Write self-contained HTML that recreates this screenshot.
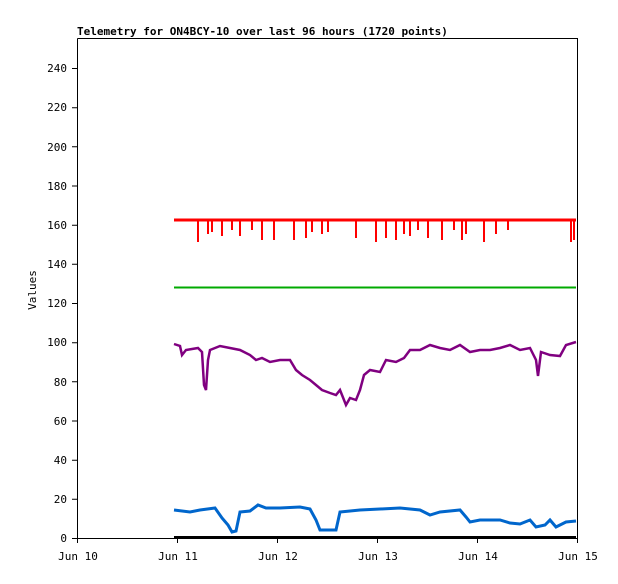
<!DOCTYPE html><html><head><style>body{margin:0;background:#fff}svg text{font-family:"DejaVu Sans Mono","Liberation Mono",monospace;font-size:11px}</style></head><body>
<svg width="618" height="579" xmlns="http://www.w3.org/2000/svg">
<rect width="618" height="579" fill="#fff"/>
<text x="77" y="35" font-weight="bold">Telemetry for ON4BCY-10 over last 96 hours (1720 points)</text>
<path d="M77.5 38.5H577.5V538.5M77.5 38.5V538.5H577.5" fill="none" stroke="#000"/>
<g stroke="#000" fill="none">
<path d="M72 538.5h5M72 499.3h5M72 460.2h5M72 421h5M72 381.8h5M72 342.7h5M72 303.5h5M72 264.3h5M72 225.2h5M72 186h5M72 146.8h5M72 107.7h5M72 68.5h5"/>
<path d="M77.5 538v5M177.5 538v5M277.5 538v5M377.5 538v5M477.5 538v5M577.5 538v5"/>
</g>
<g text-anchor="end">
<text x="67" y="542">0</text><text x="67" y="503">20</text><text x="67" y="464">40</text><text x="67" y="425">60</text><text x="67" y="386">80</text><text x="67" y="346">100</text><text x="67" y="307">120</text><text x="67" y="268">140</text><text x="67" y="229">160</text><text x="67" y="190">180</text><text x="67" y="151">200</text><text x="67" y="111">220</text><text x="67" y="72">240</text>
</g>
<g text-anchor="middle">
<text x="78" y="560">Jun 10</text><text x="178" y="560">Jun 11</text><text x="278" y="560">Jun 12</text><text x="378" y="560">Jun 13</text><text x="478" y="560">Jun 14</text><text x="578" y="560">Jun 15</text>
</g>
<text transform="translate(36 290) rotate(-90)" text-anchor="middle">Values</text>
<path d="M174 537.5H576" stroke="#000" stroke-width="3"/>
<path d="M174 287.5H576" stroke="#00aa00" stroke-width="2"/>
<path d="M174 220H576" stroke="#ff0000" stroke-width="3"/>
<path d="M198 220v22M208 220v14M212 220v12M222 220v16M232 220v10M240 220v16M252 220v10M262 220v20M274 220v20M294 220v20M306 220v18M312 220v12M322 220v14M328 220v12M356 220v18M376 220v22M386 220v18M396 220v20M404 220v14M410 220v16M418 220v10M428 220v18M442 220v20M454 220v10M462 220v20M466 220v14M484 220v22M496 220v14M508 220v10M571 220v22M574 220v20" stroke="#ff0000" stroke-width="2"/>
<polyline fill="none" stroke="#800080" stroke-width="2.5" points="174,344 180,346 182,355 186,350 192,349 198,348 202,352 204,385 206,390 208,360 210,350 220,346 230,348 240,350 250,355 256,360 262,358 270,362 280,360 290,360 296,370 302,375 310,380 316,385 322,390 330,393 336,395 340,390 344,400 346,405 350,398 356,400 360,390 364,375 370,370 380,372 386,360 396,362 404,358 410,350 420,350 430,345 440,348 450,350 460,345 470,352 480,350 490,350 500,348 510,345 520,350 530,348 536,360 538,376 541,352 550,355 560,356 566,345 576,342"/>
<polyline fill="none" stroke="#0066cc" stroke-width="3" points="174,510 190,512 200,510 215,508 222,518 228,525 232,532 236,531 240,512 250,511 258,505 266,508 280,508 300,507 310,509 316,520 320,530 336,530 340,512 360,510 380,509 400,508 420,510 430,515 440,512 460,510 466,517 470,522 480,520 500,520 510,523 520,524 530,520 536,527 545,525 550,520 556,527 566,522 576,521"/>
</svg></body></html>
